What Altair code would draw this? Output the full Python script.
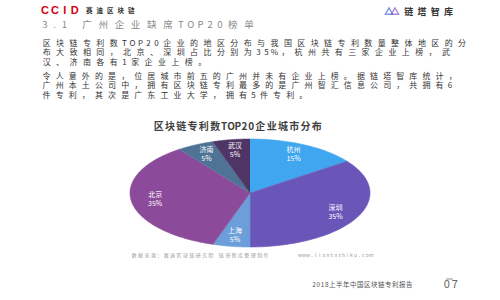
import altair as alt
import pandas as pd

# ---------------- data ----------------
cities = ["杭州", "深圳", "上海", "北京", "济南", "武汉"]
shares = [15, 35, 5, 35, 5, 5]
city_colors = ["#3fa6ef", "#6a55b9", "#6c9fd9", "#8b4a9a", "#4e7395", "#4f3566"]

header_logo = ["CCID"]
header_logo_sub = ["赛迪区块链"]
header_brand = ["链塔智库"]
section_title = ["3.1 广州企业缺席TOP20榜单"]
para1 = [
    "区块链专利数TOP20企业的地区分布与我国区块链专利数量整体地区的分",
    "布大致相同，北京、深圳占比分别为35%，杭州共有三家企业上榜，武",
    "汉、济南各有1家企业上榜。",
]
para2 = [
    "令人意外的是，位居城市前五的广州并未有企业上榜。据链塔智库统计，",
    "广州本土公司中，拥有区块链专利最多的是广州智汇信息公司，共拥有6",
    "件专利，其次是广东工业大学，拥有5件专利。",
]
chart_title = ["区块链专利数TOP20企业城市分布"]
source_left = ["数据来源：赛迪区块链研究院 链塔智库整理制作"]
source_right = ["www.liantazhiku.com"]
footer_text = ["2018上半年中国区块链专利报告"]
page_no = ["07"]

FONT = "Noto Sans CJK SC"


def spaced_text(lines, x0, y0, dy, em, size, color, weight="normal", font=FONT):
    df = pd.DataFrame({"line": list(range(len(lines))), "t": lines})
    return (
        alt.Chart(df)
        .transform_calculate(idx="sequence(0, length(datum.t))")
        .transform_flatten(["idx"])
        .transform_calculate(ch="substring(datum.t, datum.idx, datum.idx + 1)")
        .transform_calculate(w="datum.ch <= '~' ? 0.6 : 1")
        .transform_window(
            cum="sum(w)",
            groupby=["line"],
            sort=[alt.SortField("idx", order="ascending")],
            frame=[None, 0],
        )
        .transform_calculate(
            px=f"{x0} + (datum.cum - datum.w / 2) * {em}",
            py=f"{y0} + datum.line * {dy}",
        )
        .mark_text(
            font=font, fontSize=size, color=color, fontWeight=weight,
            align="center", baseline="middle",
        )
        .encode(
            x=alt.X("px:Q", scale=None, axis=None),
            y=alt.Y("py:Q", scale=None, axis=None),
            text="ch:N",
        )
    )


# ---------------- elliptical pie ----------------
pie_df = pd.DataFrame({"city": cities, "share": shares, "k": list(range(len(cities)))})
xs = alt.Scale(domain=[-1, 1], range=[130, 370])
ys = alt.Scale(domain=[-1, 1], range=[247, 139])
cs = alt.Scale(domain=cities, range=city_colors)

pie_base = (
    alt.Chart(pie_df)
    .transform_joinaggregate(total="sum(share)")
    .transform_window(cum="sum(share)", sort=[alt.SortField("k")], frame=[None, 0])
    .transform_calculate(
        a0="2 * PI * (datum.cum - datum.share) / datum.total",
        a1="2 * PI * datum.cum / datum.total",
    )
)

wedges = (
    pie_base.transform_calculate(pts="sequence(-1, 61)")
    .transform_flatten(["pts"])
    .transform_calculate(t="datum.a0 + (datum.a1 - datum.a0) * datum.pts / 60")
    .transform_calculate(
        ux="datum.pts < 0 ? 0 : sin(datum.t)",
        uy="datum.pts < 0 ? 0 : cos(datum.t)",
    )
    .mark_line(filled=True, strokeWidth=0.6, interpolate="linear")
    .encode(
        x=alt.X("ux:Q", scale=xs, axis=None),
        y=alt.Y("uy:Q", scale=ys, axis=None),
        order=alt.Order("pts:Q"),
        fill=alt.Fill("city:N", scale=cs, legend=None),
        stroke=alt.Stroke("city:N", scale=cs, legend=None),
        detail="city:N",
    )
)

label_base = pie_base.transform_calculate(m="(datum.a0 + datum.a1) / 2").transform_calculate(
    ux="0.8 * sin(datum.m)",
    uy="0.8 * cos(datum.m)",
    pct="datum.share + '%'",
)

label_name = label_base.mark_text(
    font=FONT, fontSize=7, color="white", align="center", baseline="middle", dy=-4.5
).encode(
    x=alt.X("ux:Q", scale=xs, axis=None),
    y=alt.Y("uy:Q", scale=ys, axis=None),
    text="city:N",
)

label_pct = label_base.mark_text(
    font=FONT, fontSize=7, color="white", align="center", baseline="middle", dy=4.5
).encode(
    x=alt.X("ux:Q", scale=xs, axis=None),
    y=alt.Y("uy:Q", scale=ys, axis=None),
    text="pct:N",
)

pie = alt.layer(wedges, label_name, label_pct)

# ---------------- decorations ----------------
icon = (
    alt.Chart(pd.DataFrame({"k": [0, 1]}))
    .mark_point(shape="triangle-up", filled=False, strokeWidth=1.4)
    .encode(
        x=alt.X("k:Q", scale=alt.Scale(domain=[0, 1], range=[389, 395]), axis=None),
        y=alt.value(11),
        size=alt.value(55),
        stroke=alt.Stroke("k:N", scale=alt.Scale(domain=[0, 1], range=["#4b6fd6", "#8a5cc9"]), legend=None),
    )
)

page_rule = (
    alt.Chart(pd.DataFrame({"k": [0]}))
    .mark_rule(color="#777", strokeWidth=0.8)
    .encode(x=alt.value(446), x2=alt.value(453), y=alt.value(279))
)

layers = [
    spaced_text(header_logo, 40, 11, 0, 16.5, 11, "#d7000f", "bold", "Liberation Sans"),
    spaced_text(header_logo_sub, 84, 11, 0, 10.5, 6.5, "#333333", "bold"),
    icon,
    spaced_text(header_brand, 402, 12, 0, 13.3, 9, "#333333", "bold"),
    spaced_text(section_title, 40, 25, 0, 16.2, 9.5, "#8a8a8a"),
    spaced_text(para1, 40, 43.5, 9.5, 13.4, 8, "#333333"),
    spaced_text(para2, 40, 76.5, 9.5, 13.1, 8, "#333333"),
    spaced_text(chart_title, 153, 127, 0, 11.3, 10, "#404040", "bold"),
    pie,
    spaced_text(source_left, 131, 255, 0, 6.4, 5, "#9a9a9a"),
    spaced_text(source_right, 298, 255, 0, 6.6, 5, "#9a9a9a"),
    spaced_text(footer_text, 312, 285, 0, 7.0, 6.5, "#555555"),
    spaced_text(page_no, 443, 285, 0, 13, 11, "#666666"),
    page_rule,
]

chart = (
    alt.layer(*layers)
    .resolve_scale(x="independent", y="independent", fill="independent",
                   stroke="independent")
    .properties(width=500, height=300, autosize="none", padding=0,
                background="white")
    .configure_view(stroke=None)
)

chart.save("out.html", embed_options={"renderer": "svg", "actions": False})
